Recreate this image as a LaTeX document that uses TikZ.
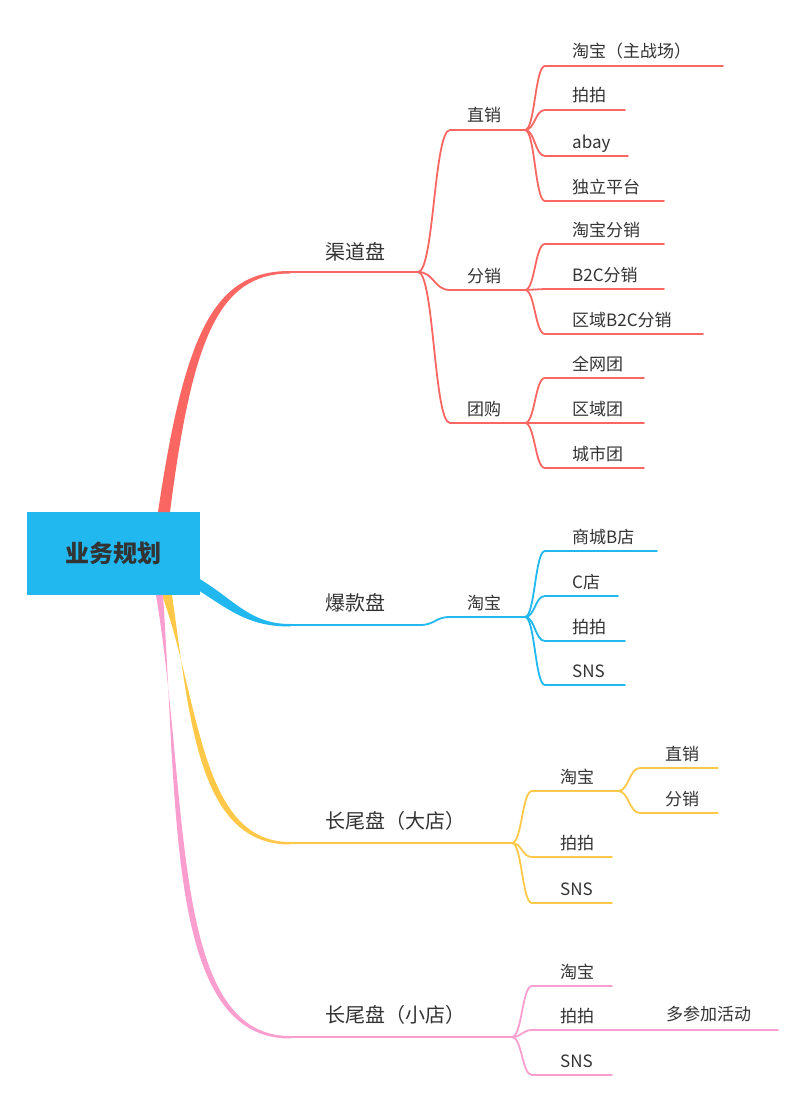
\documentclass[tikz,border=0pt]{standalone}
\usepackage{fontspec}
\setmainfont{Noto Sans CJK SC}
\definecolor{cR}{RGB}{250,102,98}
\definecolor{cB}{RGB}{32,184,238}
\definecolor{cY}{RGB}{255,200,72}
\definecolor{cP}{RGB}{250,158,208}
\definecolor{txt}{RGB}{51,51,51}
\tikzset{
 leaftext/.style={anchor=base west,text=txt,font=\fontsize{17}{20}\selectfont,inner sep=0pt},
 maintext/.style={anchor=base,text=txt,font=\fontsize{20}{24}\selectfont,inner sep=0pt},
 wire/.style={line width=1.8pt,line cap=round}
}
% color, x0, y0, x1, y1(underline), xend, text, textx, name
\newcommand\brn[9]{%
 \draw[wire,#1] (#2,#3) .. controls ({(#2+#4)/2},#3) and ({(#2+#4)/2},#5) .. (#4,#5) -- (#6,#5);
 \node[leaftext] (#9) at (#8,#5-8) {#7};}
\begin{document}
\begin{tikzpicture}[x=1pt,y=-1pt]
\useasboundingbox (0,0) rectangle (800,1105);
% root
\node[fill=cB,minimum width=173pt,minimum height=83pt,inner sep=0pt,text=txt,font=\fontsize{24}{28}\selectfont\bfseries] (root) at (113.5,553.5) {业务规划};
% main branches (tapered)
\fill[cR] (158,512) .. controls (185,330) and (215,271) .. (290,271) -- (290,273.5) .. controls (218,273.5) and (192,340) .. (170,512) -- cycle;
\fill[cB] (198,578) .. controls (235,600) and (250,624) .. (290,624) -- (290,626.5) .. controls (250,626.5) and (232,612) .. (198,590) -- cycle;
\fill[cY] (162,595) .. controls (200,700) and (200,842) .. (290,842) -- (290,844.5) .. controls (198,844.5) and (190,720) .. (172,595) -- cycle;
\fill[cP] (156,595) .. controls (190,800) and (170,1036) .. (290,1036) -- (290,1038.5) .. controls (168,1038.5) and (178,820) .. (163,595) -- cycle;
\draw[wire,cR] (290,272) -- (418,272);
\draw[wire,cB] (290,625) -- (420,625);
\draw[wire,cY] (290,843) -- (512,843);
\draw[wire,cP] (290,1037) -- (512,1037);
\node[maintext] (m1) at (355,259) {渠道盘};
\node[maintext] (m2) at (355,610) {爆款盘};
\node[maintext] (m3) at (395,828) {长尾盘（大店）};
\node[maintext] (m4) at (395,1022) {长尾盘（小店）};
% red
\brn{cR}{418}{272}{450}{130}{525}{直销}{467}{r1}
\brn{cR}{418}{272}{450}{290}{525}{分销}{467}{r2}
\brn{cR}{418}{272}{450}{423}{525}{团购}{467}{r3}
\brn{cR}{525}{130}{545}{66}{723}{淘宝（主战场）}{572}{r11}
\brn{cR}{525}{130}{545}{110}{625}{拍拍}{572}{r12}
\brn{cR}{525}{130}{545}{156}{628}{abay}{572}{r13}
\brn{cR}{525}{130}{545}{201}{664}{独立平台}{572}{r14}
\brn{cR}{525}{290}{545}{244}{664}{淘宝分销}{572}{r21}
\brn{cR}{525}{290}{545}{289}{664}{B2C分销}{572}{r22}
\brn{cR}{525}{290}{545}{334}{703}{区域B2C分销}{572}{r23}
\brn{cR}{525}{423}{545}{378}{644}{全网团}{572}{r31}
\brn{cR}{525}{423}{545}{423}{644}{区域团}{572}{r32}
\brn{cR}{525}{423}{545}{468}{644}{城市团}{572}{r33}
% blue
\brn{cB}{420}{625}{450}{617}{525}{淘宝}{467}{b1}
\brn{cB}{525}{617}{545}{551}{657}{商城B店}{572}{b11}
\brn{cB}{525}{617}{545}{596}{618}{C店}{572}{b12}
\brn{cB}{525}{617}{545}{641}{625}{拍拍}{572}{b13}
\brn{cB}{525}{617}{545}{685}{625}{SNS}{572}{b14}
% yellow
\brn{cY}{512}{843}{532}{791}{618}{淘宝}{560}{y1}
\brn{cY}{512}{843}{532}{857}{612}{拍拍}{560}{y2}
\brn{cY}{512}{843}{532}{903}{612}{SNS}{560}{y3}
\brn{cY}{618}{791}{640}{768}{718}{直销}{665}{y11}
\brn{cY}{618}{791}{640}{813}{718}{分销}{665}{y12}
% pink
\brn{cP}{512}{1037}{532}{986}{612}{淘宝}{560}{p1}
\brn{cP}{512}{1037}{532}{1030}{778}{拍拍}{560}{p2}
\brn{cP}{512}{1037}{532}{1075}{612}{SNS}{560}{p3}
\node[leaftext] (p21) at (666,1020) {多参加活动};
\end{tikzpicture}
\end{document}
